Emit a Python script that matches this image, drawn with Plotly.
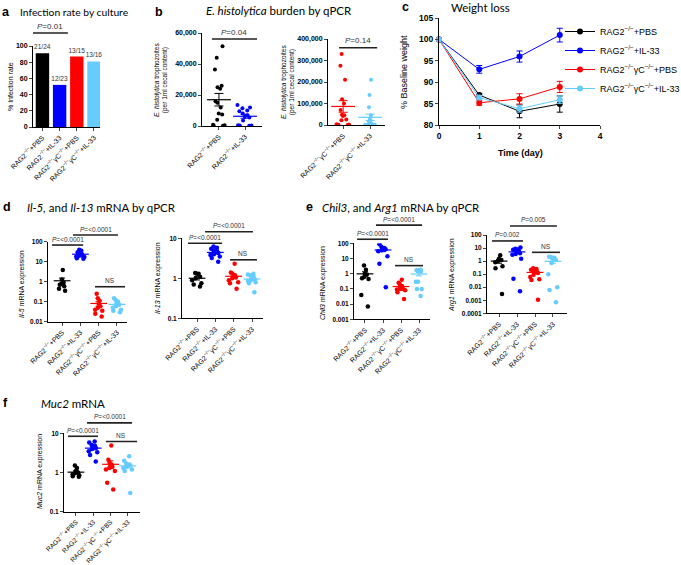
import numpy as np
import plotly.graph_objects as go

W, H = 681, 565

# ---------------- data ----------------
GROUPS = ["RAG2<sup>−/−</sup>+PBS", "RAG2<sup>−/−</sup>+IL-33",
          "RAG2<sup>−/−</sup>γC<sup>−/−</sup>+PBS", "RAG2<sup>−/−</sup>γC<sup>−/−</sup>+IL-33"]
COLORS = ["#000000", "#0000FF", "#FF0000", "#66CCFF"]

# a: infection rate by culture (%)
infection_rate = [91, 52, 87, 81]
infection_labels = ["21/24", "12/23", "13/15", "13/16"]

# b: E. histolytica burden (trophozoites per 1 ml cecal content)
burden_rag2_pbs = [51500, 44000, 36500, 26000, 25000, 24000, 16000, 15000, 12000, 8000, 7500, 4000, 800, 500, 300, 200]
burden_rag2_il33 = [13500, 12000, 11500, 10000, 9500, 8000, 7000, 6000, 5500, 3500, 500, 400, 300, 200]
burden_rgc_pbs = [330000, 275000, 210000, 120000, 100000, 70000, 48000, 45000, 42000, 25000, 22000, 3000, 2000, 1000, 500]
burden_rgc_il33 = [210000, 140000, 82000, 45000, 28000, 22000, 15000, 10000, 8000, 5000, 3000, 2000, 1000, 500, 300, 200]

# c: weight loss
days = [0, 1, 2, 3]
weight_rag2_pbs = [100, 87.0, 83.2, 84.9]
weight_rag2_pbs_sem = [0, 0.4, 1.5, 1.9]
weight_rag2_il33 = [100, 93.0, 96.0, 101.0]
weight_rag2_il33_sem = [0, 0.9, 1.3, 1.6]
weight_rgc_pbs = [100, 85.2, 86.1, 88.9]
weight_rgc_pbs_sem = [0, 0.6, 1.2, 1.3]
weight_rgc_il33 = [100, 86.4, 83.8, 85.9]
weight_rgc_il33_sem = [0, 0.5, 0.8, 0.9]

# d: Il-5 and Il-13 mRNA
il5_rag2_pbs = [3.8, 1.3, 0.9, 0.8, 0.7, 0.6, 0.45, 0.35]
il5_rag2_il33 = [40, 35, 30, 28, 25, 22, 20, 20, 18, 17, 15, 14]
il5_rgc_pbs = [0.25, 0.15, 0.11, 0.08, 0.06, 0.05, 0.04, 0.035, 0.025, 0.018]
il5_rgc_il33 = [0.15, 0.12, 0.1, 0.08, 0.07, 0.06, 0.05, 0.04, 0.035, 0.03]

il13_rag2_pbs = [1.35, 1.3, 1.3, 1.1, 1.0, 0.9, 0.75, 0.7, 0.62]
il13_rag2_il33 = [6.2, 5.8, 5.5, 5.0, 4.8, 4.5, 4.3, 4.0, 3.8, 3.5, 3.2, 2.6]
il13_rgc_pbs = [2.3, 1.4, 1.3, 1.2, 1.1, 1.05, 1.0, 0.9, 0.8, 0.75, 0.55]
il13_rgc_il33 = [1.3, 1.25, 1.2, 1.1, 1.0, 0.95, 0.9, 0.85, 0.8, 0.75, 0.45]

# e: Chil3 and Arg1 mRNA
chil3_rag2_pbs = [3.5, 1.8, 1.0, 0.9, 0.6, 0.5, 0.45, 0.04, 0.007]
chil3_rag2_il33 = [85, 60, 50, 45, 40, 35, 30, 14, 4.5, 0.13]
chil3_rgc_pbs = [0.4, 0.25, 0.2, 0.15, 0.12, 0.1, 0.1, 0.09, 0.08, 0.06, 0.022]
chil3_rgc_il33 = [1.8, 1.7, 1.6, 1.6, 1.5, 1.4, 0.3, 0.3, 0.1, 0.1, 0.034]

arg1_rag2_pbs = [2.8, 1.5, 1.2, 1.0, 0.8, 0.4, 0.28, 0.003]
arg1_rag2_il33 = [11, 9, 8, 7.5, 7, 6.5, 5, 4, 3.5, 3, 1.5, 0.045, 0.005]
arg1_rgc_pbs = [0.28, 0.25, 0.22, 0.2, 0.18, 0.15, 0.12, 0.09, 0.06, 0.04, 0.035, 0.0011]
arg1_rgc_il33 = [2.2, 2.0, 1.8, 1.6, 1.2, 0.7, 0.1, 0.01, 0.006, 0.0007]

# f: Muc2 mRNA
muc2_rag2_pbs = [1.5, 1.3, 1.1, 1.0, 0.95, 0.9, 0.85, 0.8, 0.78]
muc2_rag2_il33 = [6.2, 5.8, 5.0, 4.8, 4.5, 4.2, 4.0, 3.5, 3.3, 2.8, 1.9]
muc2_rgc_pbs = [4.9, 2.1, 1.8, 1.6, 1.5, 1.4, 1.3, 1.2, 1.1, 0.55, 0.37]
muc2_rgc_il33 = [2.6, 2.0, 1.7, 1.6, 1.5, 1.5, 1.4, 1.3, 1.2, 1.1, 0.3]

# ---------------- layout helpers ----------------
FONT = "Liberation Sans, Arial, sans-serif"
TFONT = "Lato, Calibri, sans-serif"

panels = {
    'a':  dict(n=1, xpx=(33, 100), ypx=(46, 127), xr=(-0.55, 3.35), yr=(0, 100), log=False),
    'b1': dict(n=2, xpx=(202, 262), ypx=(33, 126), xr=(-0.65, 1.65), yr=(0, 60000), log=False),
    'b2': dict(n=3, xpx=(328, 385), ypx=(39, 125), xr=(-0.56, 1.55), yr=(0, 400000), log=False),
    'c':  dict(n=4, xpx=(439, 600), ypx=(18, 125), xr=(0, 4), yr=(80, 105), log=False),
    'd1': dict(n=5, xpx=(48, 127), ypx=(241.7, 321.7), xr=(-0.77, 3.55), yr=(-2, 2), log=True),
    'd2': dict(n=6, xpx=(182, 263), ypx=(238.3, 318.3), xr=(-0.82, 3.6), yr=(-1, 1), log=True),
    'e1': dict(n=7, xpx=(354, 430), ypx=(243.3, 319.3), xr=(-0.61, 3.61), yr=(-3, 2), log=True),
    'e2': dict(n=8, xpx=(487, 567), ypx=(235, 313.3), xr=(-0.67, 3.78), yr=(-4, 2), log=True),
    'f':  dict(n=9, xpx=(64, 140), ypx=(433.3, 511.7), xr=(-0.69, 3.7), yr=(-1, 1), log=True),
}


def ax_names(key):
    n = panels[key]['n']
    s = '' if n == 1 else str(n)
    return 'x' + s, 'y' + s, 'xaxis' + s, 'yaxis' + s


def to_paper(key, x, y):
    p = panels[key]
    (x0p, x1p), (ytp, ybp) = p['xpx'], p['ypx']
    r0, r1 = p['xr']
    xp = x0p + (x - r0) / (r1 - r0) * (x1p - x0p)
    yv = np.log10(y) if p['log'] else y
    s0, s1 = p['yr']
    yp = ybp - (yv - s0) / (s1 - s0) * (ybp - ytp)
    return xp / W, 1 - yp / H


fig = go.Figure()
layout = dict(width=W, height=H, margin=dict(l=0, r=0, t=0, b=0, pad=0, autoexpand=False),
              plot_bgcolor="white", paper_bgcolor="white",
              font=dict(family=FONT, color="black"),
              showlegend=True,
              legend=dict(x=560 / W, y=1 - 17 / H, xanchor='left', yanchor='top',
                          font=dict(size=9, family=FONT), bgcolor='rgba(0,0,0,0)',
                          itemwidth=30, tracegroupgap=0),
              shapes=[], annotations=[])

log_ticks = {
    'd1': [0.01, 0.1, 1, 10, 100],
    'd2': [0.1, 1, 10],
    'e1': [0.001, 0.01, 0.1, 1, 10, 100],
    'e2': [0.0001, 0.001, 0.01, 0.1, 1, 10, 100],
    'f': [0.1, 1, 10],
}

for key, p in panels.items():
    xa, ya, xk, yk = ax_names(key)
    xdom = [p['xpx'][0] / W, p['xpx'][1] / W]
    ydom = [1 - p['ypx'][1] / H, 1 - p['ypx'][0] / H]
    xaxis = dict(domain=xdom, range=list(p['xr']), anchor=ya, showline=True, linecolor='black',
                 linewidth=1, ticks='outside', ticklen=3, tickwidth=1, showgrid=False,
                 zeroline=False, fixedrange=True, automargin=False)
    yaxis = dict(domain=ydom, range=list(p['yr']), anchor=xa, showline=True, linecolor='black',
                 linewidth=1, ticks='outside', ticklen=3, tickwidth=1, showgrid=False,
                 zeroline=False, fixedrange=True, automargin=False)
    if key == 'c':
        xaxis.update(tickvals=[0, 1, 2, 3, 4], tickfont=dict(size=8.5, family=FONT, weight='bold'))
        yaxis.update(tickvals=[80, 85, 90, 95, 100, 105], tickfont=dict(size=8.5, family=FONT, weight='bold'))
    else:
        ng = 2 if key.startswith('b') else 4
        names = GROUPS[:2] if key == 'b1' else (GROUPS[2:] if key == 'b2' else GROUPS)
        xaxis.update(tickvals=list(range(ng)), ticktext=names, tickangle=-45,
                     tickfont=dict(size=6.6 if key == 'f' else 7, family=FONT))
        if p['log']:
            tv = log_ticks[key]
            yaxis.update(type='log', tickvals=tv, ticktext=[f"{v:g}" for v in tv],
                         tickfont=dict(size=6.5, family=FONT, weight='bold'))
        elif key == 'a':
            yaxis.update(tickvals=[0, 20, 40, 60, 80, 100], tickfont=dict(size=7, family=FONT, weight='bold'))
        elif key == 'b1':
            yaxis.update(tickvals=[0, 20000, 40000, 60000], tickformat=',',
                         tickfont=dict(size=7, family=FONT, weight='bold'))
        else:
            yaxis.update(tickvals=[0, 100000, 200000, 300000, 400000], tickformat=',',
                         tickfont=dict(size=7, family=FONT, weight='bold'))
    layout[xk] = xaxis
    layout[yk] = yaxis

# ---------------- panel a: bars ----------------
fig.add_trace(go.Bar(x=list(range(4)), y=infection_rate, marker=dict(color=COLORS, line=dict(width=0)),
                     width=0.78, text=infection_labels, textposition='outside', cliponaxis=False,
                     constraintext='none', textangle=0,
                     textfont=dict(size=6.5, family=FONT, color='#333'), xaxis='x', yaxis='y',
                     showlegend=False))


# ---------------- dot panels ----------------
def dot_panel(key, groups, colors, size, mean_w, cap):
    xa, ya, _, _ = ax_names(key)
    for i, (vals, c) in enumerate(zip(groups, colors)):
        fig.add_trace(go.Box(x=[i] * len(vals), y=vals, xaxis=xa, yaxis=ya, boxpoints='all',
                             jitter=0.85, pointpos=0, width=0.75,
                             fillcolor='rgba(0,0,0,0)', line=dict(width=0, color='rgba(0,0,0,0)'),
                             marker=dict(color=c, size=size), showlegend=False, hoverinfo='y'))
        v = np.array(vals, dtype=float)
        m = v.mean()
        s = v.std(ddof=1) / np.sqrt(len(v))
        fig.add_trace(go.Scatter(x=[i], y=[m], xaxis=xa, yaxis=ya, mode='markers',
                                 marker=dict(symbol='line-ew', size=mean_w, color=c,
                                             line=dict(color=c, width=1.2)),
                                 error_y=dict(type='data', array=[s], color=c, thickness=1, width=cap),
                                 showlegend=False, cliponaxis=False))


dot_panel('b1', [burden_rag2_pbs, burden_rag2_il33], COLORS[:2], 4, 17, 4.5)
dot_panel('b2', [burden_rgc_pbs, burden_rgc_il33], COLORS[2:], 4, 17, 4.5)
dot_panel('d1', [il5_rag2_pbs, il5_rag2_il33, il5_rgc_pbs, il5_rgc_il33], COLORS, 4.5, 12, 3)
dot_panel('d2', [il13_rag2_pbs, il13_rag2_il33, il13_rgc_pbs, il13_rgc_il33], COLORS, 4.5, 12, 3)
dot_panel('e1', [chil3_rag2_pbs, chil3_rag2_il33, chil3_rgc_pbs, chil3_rgc_il33], COLORS, 4.5, 12, 3)
dot_panel('e2', [arg1_rag2_pbs, arg1_rag2_il33, arg1_rgc_pbs, arg1_rgc_il33], COLORS, 4.5, 12, 3)
dot_panel('f', [muc2_rag2_pbs, muc2_rag2_il33, muc2_rgc_pbs, muc2_rgc_il33], COLORS, 4.5, 12, 3)

# ---------------- panel c: weight lines ----------------
weights = [(weight_rag2_pbs, weight_rag2_pbs_sem), (weight_rag2_il33, weight_rag2_il33_sem),
           (weight_rgc_pbs, weight_rgc_pbs_sem), (weight_rgc_il33, weight_rgc_il33_sem)]
for (w, e), c, name in zip(weights, COLORS, GROUPS):
    fig.add_trace(go.Scatter(x=days, y=w, error_y=dict(type='data', array=e, color=c, thickness=1, width=3),
                             mode='lines+markers', line=dict(color=c, width=1),
                             marker=dict(color=c, size=6), name=name, xaxis='x4', yaxis='y4',
                             cliponaxis=False))

# ---------------- significance bars ----------------
P = "<i>P</i>="
sig_bars = [
    ('a', -0.55, 1.48, 116, P + "0.01"),
    ('b1', -0.27, 1.46, 56100, P + "0.04"),
    ('b2', -0.15, 1.26, 359500, P + "0.14"),
    ('d1', -0.55, 1.15, 68, P + "&lt;0.0001"),
    ('d1', 0.6, 3.06, 215, P + "&lt;0.0001"),
    ('d1', 1.8, 3.44, 0.56, "NS"),
    ('d2', -0.49, 1.37, 7.5, P + "&lt;0.0001"),
    ('d2', 0.44, 3.05, 14.6, P + "&lt;0.0001"),
    ('d2', 1.8, 3.27, 2.9, "NS"),
    ('e1', -0.44, 1.28, 185, P + "&lt;0.0001"),
    ('e1', 0.61, 3.17, 1580, P + "&lt;0.0001"),
    ('e1', 1.67, 3.22, 3.4, "NS"),
    ('e2', -0.39, 1.33, 35, P + "0.002"),
    ('e2', 0.61, 3.22, 490, P + "0.005"),
    ('e2', 1.83, 3.39, 4.7, "NS"),
    ('f', -0.46, 1.27, 8.4, P + "&lt;0.0001"),
    ('f', 0.64, 3.24, 18.5, P + "&lt;0.0001"),
    ('f', 1.73, 3.53, 6.2, "NS"),
]
for key, x0, x1, yv, label in sig_bars:
    px0, py = to_paper(key, x0, yv)
    px1, _ = to_paper(key, x1, yv)
    layout['shapes'].append(dict(type='line', xref='paper', yref='paper', x0=px0, x1=px1, y0=py, y1=py,
                                 line=dict(color='#222', width=1.6)))
    fsize = 8 if key in ('a', 'b1', 'b2') else 6.5
    layout['annotations'].append(dict(xref='paper', yref='paper', x=(px0 + px1) / 2, y=py, text=label,
                                      showarrow=False, yanchor='bottom', xanchor='center', yshift=0.5,
                                      font=dict(size=fsize, family=FONT, color='#333')))

# ---------------- titles and labels ----------------
def ann(x, y, text, size, family=FONT, angle=0, xanchor='left'):
    layout['annotations'].append(dict(xref='paper', yref='paper', x=x / W, y=1 - y / H, text=text,
                                      showarrow=False, textangle=angle, xanchor=xanchor, yanchor='middle',
                                      borderpad=0, font=dict(size=size, family=family, color='black')))


for letter, x, y in [('a', 1, 12), ('b', 154, 12), ('c', 401, 7), ('d', 2, 207), ('e', 305, 207), ('f', 2, 403)]:
    ann(x, y, f"<b>{letter}</b>", 12.5)

ann(19, 12, "Infection rate by culture", 10.3, TFONT)
ann(205, 11, "<i>E. histolytica</i> burden by qPCR", 11.5, TFONT)
ann(450, 7, "Weight loss", 11.5, TFONT)
ann(26, 207, "<i>Il-5,</i> and <i>Il-13</i> mRNA by qPCR", 11.5, TFONT)
ann(321, 207, "<i>Chil3</i>, and <i>Arg1</i> mRNA by qPCR", 11.5, TFONT)
ann(40, 403, "<i>Muc2</i> mRNA", 11.5, TFONT)

# axis titles
ann(10, 87, "% Infection rate", 7, angle=-90, xanchor='center')
ann(161, 80, "<i>E. histolytica</i> trophozoites<br>(per 1ml cecal content)", 6.5, angle=-90, xanchor='center')
ann(288, 82, "<i>E. histolytica</i> trophozoites<br>(per 1ml cecal content)", 6.5, angle=-90, xanchor='center')
ann(404, 72, "% Baseline weight", 9, angle=-90, xanchor='center')
ann(520, 153, "<b>Time (day)</b>", 9, xanchor='center')
ann(22, 284, "<i>Il-5</i> mRNA expression", 7, angle=-90, xanchor='center')
ann(158, 278, "<i>Il-13</i> mRNA expression", 7, angle=-90, xanchor='center')
ann(323, 283, "<i>Chil3</i> mRNA expression", 7, angle=-90, xanchor='center')
ann(452, 275, "<i>Arg1</i> mRNA expression", 7, angle=-90, xanchor='center')
ann(40, 472, "<i>Muc2</i> mRNA expression", 7, angle=-90, xanchor='center')

fig.update_layout(**layout)
fig.write_html("out.html", config={'displayModeBar': False},
               post_script="document.body.style.margin='0px';document.body.style.overflow='hidden';")
